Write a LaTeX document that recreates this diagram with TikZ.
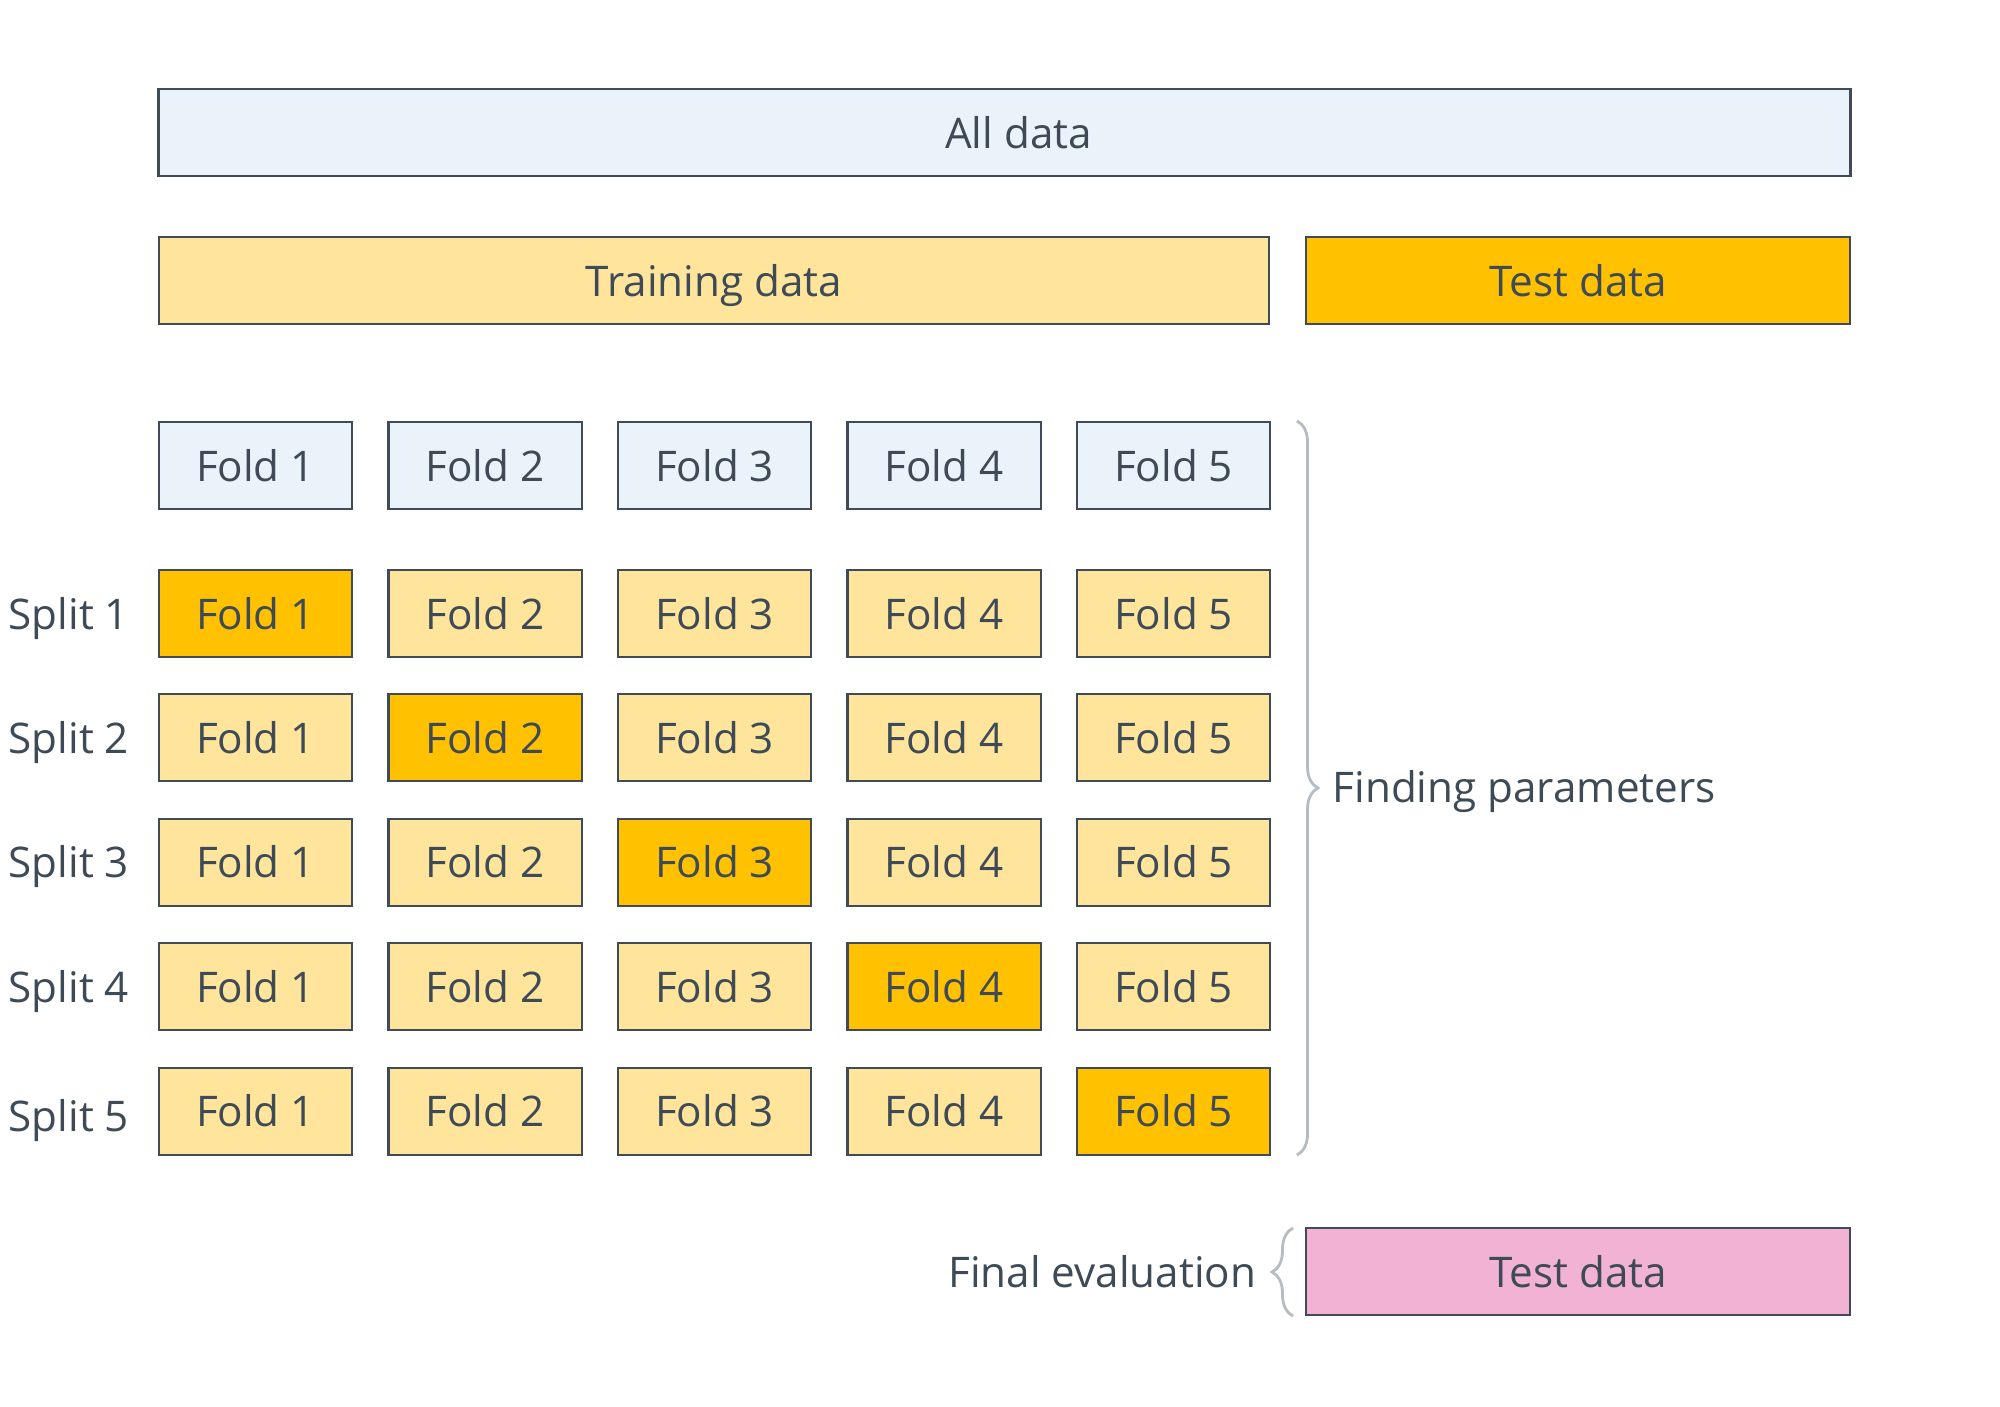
\documentclass[tikz,border=0pt]{standalone}
\usepackage{fontspec}
\setmainfont{Open Sans}
\usetikzlibrary{decorations.pathreplacing}
\definecolor{txt}{HTML}{3E4A56}
\definecolor{edge}{HTML}{3F4B57}
\definecolor{lblue}{HTML}{EBF3FA}
\definecolor{lyel}{HTML}{FFE59B}
\definecolor{gold}{HTML}{FFC100}
\definecolor{pinkc}{HTML}{F2B2D3}
\definecolor{bracec}{HTML}{B5BCC4}
\begin{document}
\begin{tikzpicture}[x=0.01cm,y=-0.01cm,
  font=\fontsize{12pt}{14pt}\selectfont, text=txt,
  base/.style={draw=edge, line width=0.6pt, minimum height=0.87cm, inner sep=0pt, text=txt, text height=0.31cm, text depth=0pt},
  fold/.style={base, minimum width=1.93cm},
  blue/.style={fill=lblue},
  pale/.style={fill=lyel},
  hot/.style={fill=gold},
  pinkbox/.style={fill=pinkc},
  lab/.style={inner sep=0pt, text=txt, text height=0.31cm, text depth=0pt},
  bracedeco/.style={draw=bracec, line width=0.8pt, decorate, decoration={brace, amplitude=0.21cm}}
]
\useasboundingbox (0,0) rectangle (2000,1406);
% top bars
\node[base, blue, minimum width=16.91cm] (all) at (1004.5,132.5) {\hspace*{0.28cm}All data};
\node[base, pale, minimum width=11.10cm] (train) at (714,280.5) {Training data};
\node[base, hot, minimum width=5.44cm] (test) at (1578,280.5) {Test data};
% fold header row
\foreach \i in {1,...,5} {
  \node[fold, blue] (h\i) at ({255.5+229.5*(\i-1)},465.5) {Fold \i};
}
% splits
\foreach \s/\dy in {1/0,2/0,3/0,4/0,5/5} {
  \node[lab, anchor=west] (s\s) at (8,{613.5+124.4*(\s-1)+\dy}) {Split \s};
  \foreach \i in {1,...,5} {
    \ifnum\i=\s
      \node[fold, hot] (f\s\i) at ({255.5+229.5*(\i-1)},{613.5+124.4*(\s-1)}) {Fold \i};
    \else
      \node[fold, pale] (f\s\i) at ({255.5+229.5*(\i-1)},{613.5+124.4*(\s-1)}) {Fold \i};
    \fi
  }
}
% braces
\coordinate (bt) at (1297,421);
\coordinate (bb) at (1297,1155);
\draw[bracedeco] (bt) -- (bb);
\node[lab, anchor=west] (fp) at (1332,787) {Finding parameters};
\node[base, pinkbox, minimum width=5.44cm] (final) at (1578,1271.5) {Test data};
\coordinate (et) at (1293,1228);
\coordinate (eb) at (1293,1316);
\draw[bracedeco] (eb) -- (et);
\node[lab, anchor=east] (fe) at (1257,1271.5) {Final evaluation};
\end{tikzpicture}
\end{document}
